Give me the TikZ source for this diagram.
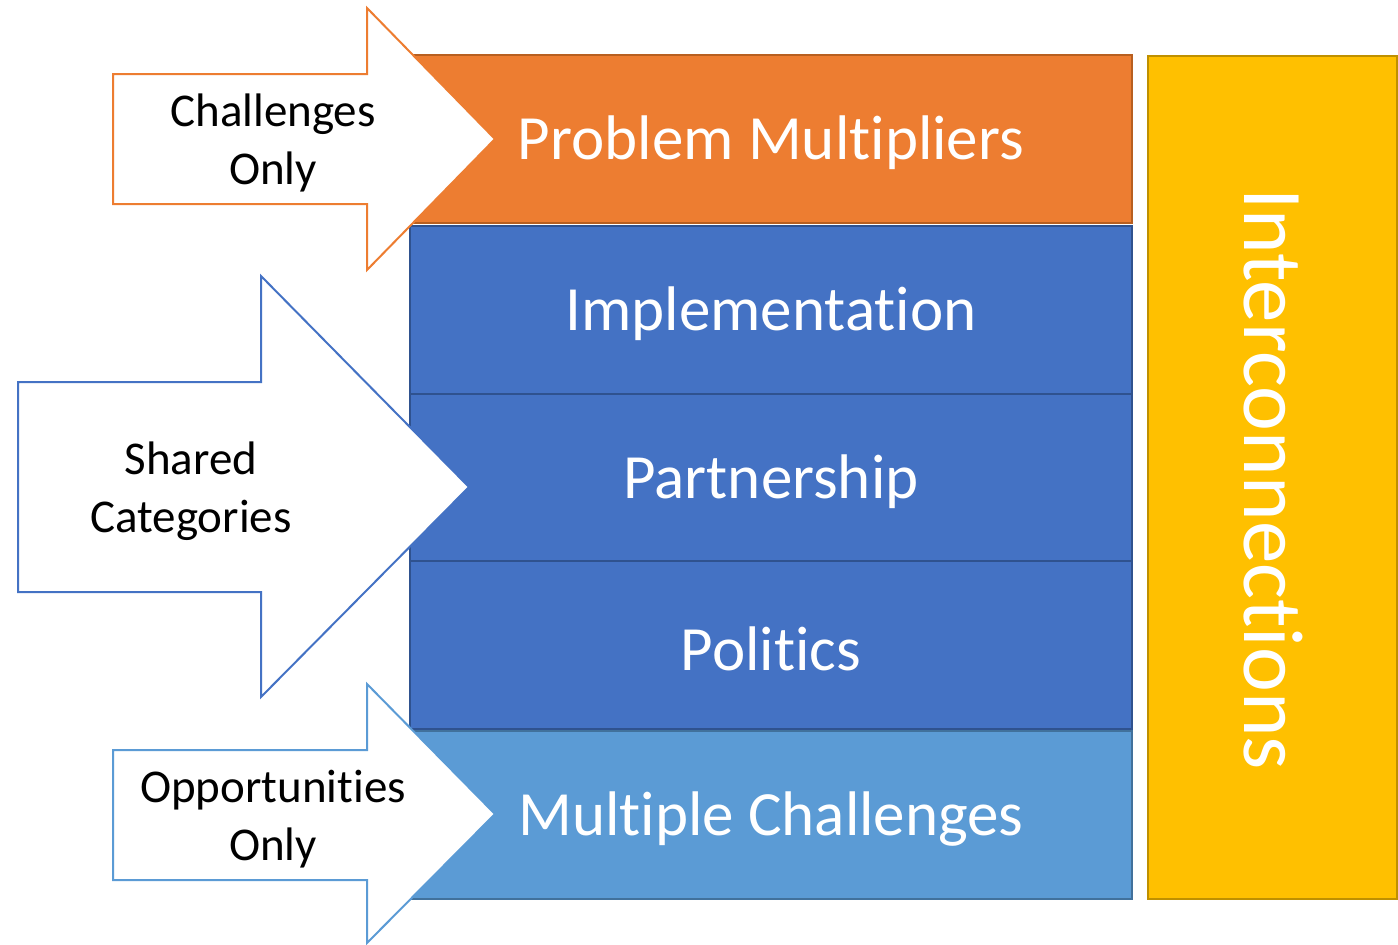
\documentclass[tikz,border=0pt]{standalone}
\usepackage{fontspec}
\setmainfont[Ligatures=NoCommon]{Carlito}
\definecolor{orA}{HTML}{ED7D31}
\definecolor{orB}{HTML}{B85F20}
\definecolor{blA}{HTML}{4472C4}
\definecolor{blB}{HTML}{2F528F}
\definecolor{lbA}{HTML}{5B9BD5}
\definecolor{lbB}{HTML}{41719C}
\definecolor{yeA}{HTML}{FFC000}
\definecolor{yeB}{HTML}{BF9000}
\tikzset{
  catbox/.style={rectangle, minimum width=722pt, minimum height=168pt, line width=2pt, inner sep=0pt, text=white, font=\fontsize{63}{70}\selectfont},
  arr/.style={line width=2pt, fill=white, line join=miter},
  arrtext/.style={align=center, font=\fontsize{47}{57.5}\selectfont, text=black, inner sep=0pt}
}
\begin{document}
\begin{tikzpicture}[x=1pt,y=-1pt]
\useasboundingbox (0,0) rectangle (1398,945);
\node[catbox, fill=orA, draw=orB] (pm) at (771,139) {};
\node[catbox, fill=blA, draw=blB] (impl) at (771,310) {};
\node[catbox, fill=blA, draw=blB] (part) at (771,478) {};
\node[catbox, fill=blA, draw=blB] (pol) at (771,645) {};
\node[catbox, fill=lbA, draw=lbB] (mc) at (771,815) {};
\node[catbox, draw=none, fill=none] (pmt) at (771,143) {Problem Multipliers};
\node[catbox, draw=none, fill=none] (implt) at (771,314) {Implementation};
\node[catbox, draw=none, fill=none] (partt) at (771,482) {Partnership};
\node[catbox, draw=none, fill=none] (polt) at (771,649) {Politics};
\node[catbox, draw=none, fill=none] (mct) at (771,819) {Multiple Challenges};
\node[rectangle, fill=yeA, draw=yeB, line width=2pt, minimum width=249pt, minimum height=843pt, inner sep=0pt] (inter) at (1272,477) {};
\node[text=white, font=\fontsize{85}{90}\selectfont, rotate=-90, inner sep=0pt] (intert) at (1273,479) {Interconnections};
% arrows
\draw[arr, draw=orA] (113,74) -- (367,74) -- (367,8) -- (495,139) -- (367,270) -- (367,204) -- (113,204) -- cycle;
\node[arrtext] (a1) at (273,143) {Challenges\\Only};
\draw[arr, draw=blA] (18,382) -- (261,382) -- (261,276) -- (469,487) -- (261,697) -- (261,592) -- (18,592) -- cycle;
\node[arrtext] (a2) at (191,491) {Shared\\Categories};
\draw[arr, draw=lbA] (113,750) -- (367,750) -- (367,684) -- (495,814) -- (367,943) -- (367,880) -- (113,880) -- cycle;
\node[arrtext] (a3) at (273,819) {Opportunities\\Only};
\end{tikzpicture}
\end{document}
